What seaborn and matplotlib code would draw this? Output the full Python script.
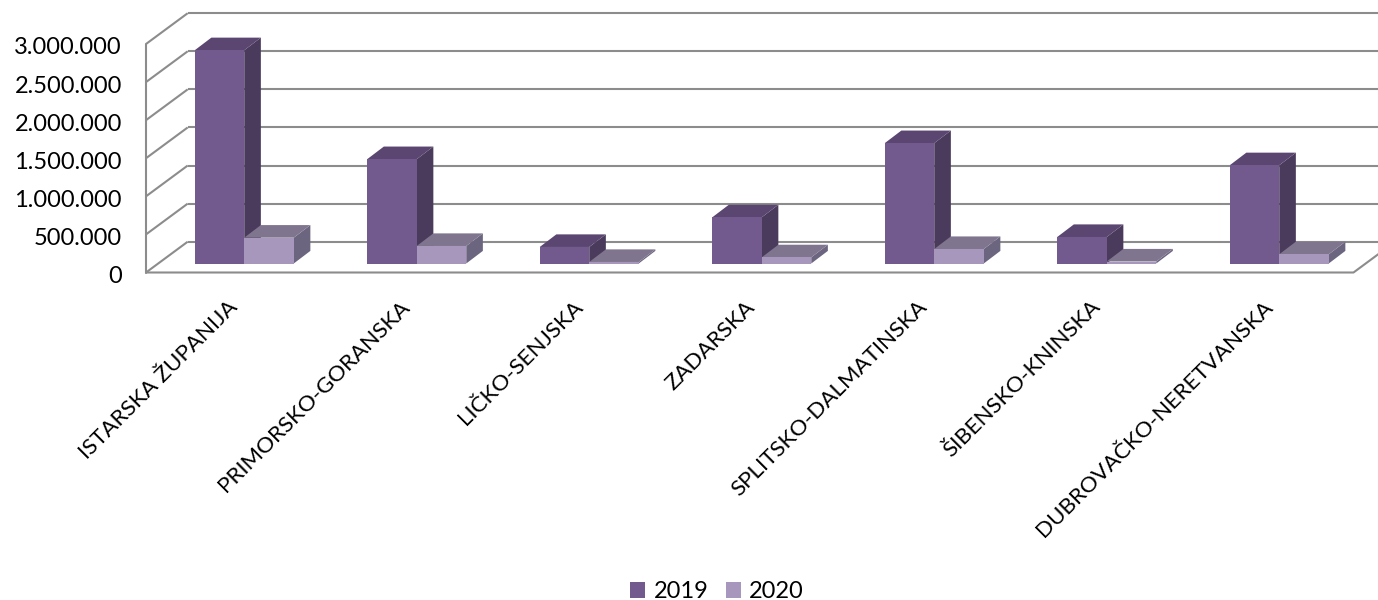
import matplotlib
matplotlib.use("Agg")
import matplotlib.pyplot as plt
from matplotlib.patches import Polygon
from matplotlib.transforms import ScaledTranslation
import pandas as pd
import seaborn as sns

zupanije = ['ISTARSKA ŽUPANIJA', 'PRIMORSKO-GORANSKA', 'LIČKO-SENJSKA', 'ZADARSKA',
            'SPLITSKO-DALMATINSKA', 'ŠIBENSKO-KNINSKA', 'DUBROVAČKO-NERETVANSKA']
god_2019 = [2800000, 1370000, 217000, 606000, 1580000, 348000, 1290000]
god_2020 = [339000, 230000, 20000, 81000, 190000, 26000, 121000]
y_vrijednosti = [0, 500000, 1000000, 1500000, 2000000, 2500000, 3000000]
y_oznake = ['0', '500.000', '1.000.000', '1.500.000', '2.000.000', '2.500.000', '3.000.000']

boje = ['#725A8E', '#A897BC']
boje_bok = ['#4A3A5C', '#6C6580']
boje_vrh = ['#5A4670', '#80758E']
siva = '#8C8C8C'

df = pd.DataFrame({
    'zupanija': zupanije * 2,
    'godina': ['2019'] * 7 + ['2020'] * 7,
    'vrijednost': god_2019 + god_2020,
})

sns.set_theme(style='white')
plt.rcParams['font.family'] = ['Lato', 'DejaVu Sans']

SIRINA, VISINA = 1378, 600
fig = plt.figure(figsize=(SIRINA / 100, VISINA / 100), dpi=100)
# os je ravnina prednje strane stupaca, zidovi se crtaju oko nje
ax = fig.add_axes([158 / SIRINA, (VISINA - 263.5) / VISINA, 1207.5 / SIRINA, 228.5 / VISINA])

sns.barplot(data=df, x='zupanija', y='vrijednost', hue='godina', palette=boje,
            width=0.574, saturation=1, linewidth=0, ax=ax)

ax.set_xlim(-0.5, 6.5)
ax.set_ylim(0, 3000000)
ax.set_xlabel('')
ax.set_ylabel('')
sns.despine(ax=ax, left=True, bottom=True)

# pretvorba piksela u jedinice osi
px_x = 7 / 1207.5
px_y = 3000000 / 228.5

lijevo = -0.5 - 12 * px_x
desno = 6.5 - 12 * px_x
pomak_x = 41.7 * px_x
stražnji_y = 21.8 * px_y
prednji_y = -9 * px_y

# zidovi i pod
for v in y_vrijednosti:
    ax.plot([lijevo, lijevo + pomak_x], [v + prednji_y, v + stražnji_y], color=siva, lw=1.5,
            clip_on=False, zorder=1, solid_capstyle='butt')
    ax.plot([lijevo + pomak_x, desno + pomak_x], [v + stražnji_y, v + stražnji_y], color=siva, lw=1.5,
            clip_on=False, zorder=1, solid_capstyle='butt')
ax.plot([lijevo, lijevo], [prednji_y, 3000000 + prednji_y], color=siva, lw=1.5, clip_on=False, zorder=1)
ax.plot([lijevo, desno, desno + pomak_x], [prednji_y, prednji_y, stražnji_y], color=siva, lw=1.5,
        clip_on=False, zorder=1)

# bok i vrh stupaca
dub_x = 16.6 * px_x
dub_y = 12.6 * px_y
for i, cont in enumerate(ax.containers):
    for bar in cont:
        x0 = bar.get_x()
        x1 = x0 + bar.get_width()
        h = bar.get_height()
        bar.set_zorder(5)
        bok = Polygon([(x1, 0), (x1 + dub_x, dub_y), (x1 + dub_x, h + dub_y), (x1, h)],
                      closed=True, facecolor=boje_bok[i], edgecolor='none', clip_on=False, zorder=2 + i)
        vrh = Polygon([(x0, h), (x1, h), (x1 + dub_x, h + dub_y), (x0 + dub_x, h + dub_y)],
                      closed=True, facecolor=boje_vrh[i], edgecolor='none', clip_on=False, zorder=2 + i)
        ax.add_patch(bok)
        ax.add_patch(vrh)

ax.set_ylim(0, 3000000)
ax.set_yticks(y_vrijednosti)
ax.set_yticklabels(y_oznake)
ax.tick_params(axis='y', length=0, pad=26, labelsize=17, labelcolor='black')
pomak_oznake = ScaledTranslation(0, -11 / 100, fig.dpi_scale_trans)
for t in ax.get_yticklabels():
    t.set_transform(t.get_transform() + pomak_oznake)

ax.tick_params(axis='x', length=0, pad=24, labelsize=16.1, labelcolor='black')
plt.setp(ax.get_xticklabels(), rotation=45, ha='right', va='top', rotation_mode='anchor')
pomak_x_oznake = ScaledTranslation(-17 / 100, 0, fig.dpi_scale_trans)
for t in ax.get_xticklabels():
    t.set_transform(t.get_transform() + pomak_x_oznake)

sns.move_legend(ax, 'center', bbox_to_anchor=(717 / SIRINA, (VISINA - 592) / VISINA),
                bbox_transform=fig.transFigure, ncols=2, frameon=False, title=None,
                fontsize=17, handlelength=0.64, handleheight=0.64, handletextpad=0.35,
                columnspacing=0.72, labelcolor='black')

fig.savefig('out.png', dpi=100)
